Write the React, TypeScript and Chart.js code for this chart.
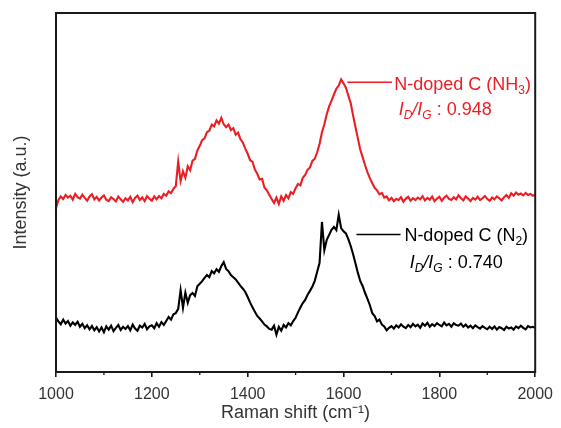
import React, { useEffect, useRef } from 'react';
import { Chart, registerables } from 'chart.js';

Chart.register(...registerables);

// Raman shift sampling grid (cm^-1), one reading every 5 cm^-1 from 1000 to 2000
const ramanShift: number[] = Array.from({ length: 201 }, (_, i) => 1000 + 5 * i);

// N-doped C (NH3) — red trace, intensity in arbitrary units
const nh3Intensity: number[] = [
  45.6, 47.9, 48.9, 48.2, 49.3, 48.6, 49.1, 48.0, 49.6, 48.7,
  48.3, 49.4, 48.5, 47.7, 48.9, 49.5, 48.1, 48.8, 47.8, 48.6,
  49.2, 48.0, 47.6, 48.7, 48.2, 47.5, 48.9, 48.1, 47.4, 48.4,
  47.8, 48.8, 47.3, 48.5, 49.1, 47.9, 48.6, 47.6, 49.0, 48.3,
  47.7, 48.9, 48.1, 49.0, 48.4, 49.6, 49.1, 50.3, 49.8, 51.0,
  51.8, 58.6, 53.2, 55.9, 54.1, 57.3, 56.2, 58.9, 59.4, 61.7,
  63.0, 64.6, 65.1, 66.8, 67.2, 68.9, 68.4, 70.1, 69.2, 70.8,
  69.0, 68.2, 68.9, 67.4, 67.9, 66.1, 66.7, 64.8, 63.9, 62.2,
  60.8, 59.0, 58.6, 56.4, 55.2, 53.6, 53.8, 51.4, 50.6, 49.4,
  48.2, 47.1, 48.6, 46.8, 48.9, 47.7, 49.3, 48.4, 50.1, 49.6,
  51.2, 52.4, 52.0, 54.1, 54.9, 56.3, 57.0, 58.8, 59.4, 61.2,
  63.5, 66.8, 69.0, 71.8, 74.0, 75.6, 77.3, 78.9, 79.8, 81.5,
  80.4, 79.2, 77.0, 74.9, 71.4, 68.2, 65.0, 61.9, 59.8, 57.6,
  55.6, 54.0, 52.6, 51.3, 50.6, 49.5, 49.9, 48.6, 48.9, 47.8,
  48.5, 47.6, 48.2, 47.9, 48.7, 47.4, 48.3, 48.8, 47.7, 48.4,
  47.9, 48.6, 48.1, 49.0, 47.8, 48.5, 48.0, 48.9, 47.6, 48.3,
  48.8, 47.7, 48.6, 49.1, 48.2, 47.9, 48.7, 48.1, 49.2, 48.4,
  47.8, 48.9, 48.3, 47.6, 48.5, 48.0, 48.8, 47.9, 48.4, 49.0,
  48.2, 47.7, 48.6, 48.1, 48.9, 48.4, 47.8, 48.7, 49.3, 48.5,
  49.8, 49.1, 50.0, 49.4, 49.7, 49.2, 49.9, 49.3, 49.6, 49.1,
  49.4,
];

// N-doped C (N2) — black trace, intensity in arbitrary units
const n2Intensity: number[] = [
  15.2, 14.1, 13.3, 14.6, 13.5, 14.2, 12.9, 13.8, 13.1, 14.0,
  12.6, 13.4, 12.2, 13.0, 11.9, 12.8, 11.6, 12.5, 11.3, 12.4,
  11.1, 12.7, 11.8, 12.9, 11.4, 12.3, 13.1, 11.7, 12.6, 12.0,
  12.8, 11.6, 13.2, 12.1, 11.5, 12.9, 12.4, 13.4, 11.9, 12.7,
  13.0, 12.2, 13.6, 12.6, 13.9, 13.1, 14.2, 15.3, 14.6, 16.1,
  16.4, 17.6, 22.8, 17.9, 22.1, 19.3, 21.4, 22.0, 21.2, 23.9,
  24.6, 25.3, 26.2, 27.0, 26.4, 28.1, 27.5, 28.6, 27.9, 29.5,
  30.6, 28.7, 28.1, 27.0, 26.4, 25.8, 24.9, 24.0, 23.2, 22.3,
  20.9, 19.4, 18.0, 16.8, 15.6, 14.9, 14.1, 13.2, 12.7, 12.0,
  11.8, 12.9, 10.4, 12.6, 11.5, 13.1, 12.4, 13.6, 13.0, 14.2,
  15.1, 16.6, 18.0, 19.2, 20.1, 21.5, 22.6, 23.8, 25.4, 27.9,
  30.4, 41.8, 33.9, 36.8, 38.2, 39.6, 40.4, 39.5, 43.8, 40.1,
  39.2, 38.6, 37.0, 35.1, 32.8, 30.2, 27.6, 25.3, 23.9, 22.0,
  20.4, 18.6, 16.4, 15.6, 14.1, 14.6, 13.2, 12.7, 11.6, 12.3,
  12.8, 12.1, 13.0, 12.4, 13.3, 12.6, 12.2, 13.1, 12.5, 13.4,
  12.7, 13.2, 12.3, 13.5, 12.9, 13.7, 12.6, 13.3, 12.8, 13.6,
  13.1, 12.7, 13.8, 13.0, 13.4, 12.6, 13.6, 13.1, 12.9, 13.5,
  12.6, 13.2, 12.4, 12.9, 12.2, 13.0, 12.5, 12.1, 12.8, 12.3,
  11.9, 12.6, 12.0, 12.7, 11.8, 12.5, 12.2, 11.7, 12.6, 12.1,
  12.4, 11.8, 12.7, 12.2, 12.9, 12.3, 11.9, 12.8, 12.4, 12.6,
  12.3,
];

const majorTicks: number[] = [1000, 1200, 1400, 1600, 1800, 2000];
const minorTicks: number[] = [1100, 1300, 1500, 1700, 1900];

const seriesNames: string[] = ['N-doped C (NH3)', 'N-doped C (N2)'];
const ratioValues: string[] = ['0.948', '0.740'];

const RED = 'rgb(236, 30, 36)';
const BLACK = '#000000';
const TEXT = '#333333';
const FAMILY = "'Liberation Sans', Arial, sans-serif";

// label anchors, in data units (shift, intensity)
const labelAnchors = [
  { color: RED, lineX0: 1608, lineX1: 1701, lineY: 80.7, textX: 1706, textY: 80.0, ratioX: 1715, ratioY: 73.1, head: 'N-doped C (NH', sub: '3' },
  { color: BLACK, lineX0: 1627, lineX1: 1719, lineY: 38.3, textX: 1727, textY: 38.0, ratioX: 1738, ratioY: 30.4, head: 'N-doped C (N', sub: '2' },
];

type Run = { text: string; font: string; dy?: number };

function drawRuns(ctx: CanvasRenderingContext2D, x: number, y: number, runs: Run[]) {
  let cx = x;
  for (const r of runs) {
    ctx.font = r.font;
    ctx.fillText(r.text, cx, y + (r.dy || 0));
    cx += ctx.measureText(r.text).width;
  }
}

const framePlugin = {
  id: 'frameAndLabels',
  afterDraw(chart: any) {
    const { ctx, chartArea, scales } = chart;
    const { left, right, top, bottom } = chartArea;
    ctx.save();
    ctx.strokeStyle = '#1a1a1a';
    ctx.lineWidth = 2;
    ctx.strokeRect(left, top, right - left, bottom - top);
    ctx.lineWidth = 1.3;
    for (const v of minorTicks) {
      const x = scales.x.getPixelForValue(v);
      ctx.beginPath();
      ctx.moveTo(x, bottom);
      ctx.lineTo(x, bottom + 3);
      ctx.stroke();
    }
    const base = `18px ${FAMILY}`;
    const small = `12px ${FAMILY}`;
    const ital = `italic 18px ${FAMILY}`;
    const italSmall = `italic 12px ${FAMILY}`;
    labelAnchors.forEach((a, i) => {
      const sx = scales.x;
      const sy = scales.y;
      ctx.strokeStyle = a.color;
      ctx.fillStyle = a.color;
      ctx.lineWidth = 1.6;
      ctx.beginPath();
      ctx.moveTo(sx.getPixelForValue(a.lineX0), sy.getPixelForValue(a.lineY));
      ctx.lineTo(sx.getPixelForValue(a.lineX1), sy.getPixelForValue(a.lineY));
      ctx.stroke();
      ctx.textBaseline = 'middle';
      ctx.textAlign = 'left';
      drawRuns(ctx, sx.getPixelForValue(a.textX), sy.getPixelForValue(a.textY), [
        { text: a.head, font: base },
        { text: a.sub, font: small, dy: 6 },
        { text: ')', font: base },
      ]);
      drawRuns(ctx, sx.getPixelForValue(a.ratioX), sy.getPixelForValue(a.ratioY), [
        { text: 'I', font: ital },
        { text: 'D', font: italSmall, dy: 6 },
        { text: '/', font: ital },
        { text: 'I', font: ital },
        { text: 'G', font: italSmall, dy: 6 },
        { text: ' : ' + ratioValues[i], font: base },
      ]);
    });
    ctx.restore();
  },
};

export default function App() {
  const canvasRef = useRef<HTMLCanvasElement | null>(null);

  useEffect(() => {
    if (!canvasRef.current) return;
    const chart = new Chart(canvasRef.current, {
      type: 'line',
      data: {
        datasets: [
          {
            label: seriesNames[0],
            data: ramanShift.map((x, i) => ({ x, y: nh3Intensity[i] })),
            borderColor: RED,
            borderWidth: 2.1,
            pointRadius: 0,
            tension: 0,
            fill: false,
          },
          {
            label: seriesNames[1],
            data: ramanShift.map((x, i) => ({ x, y: n2Intensity[i] })),
            borderColor: BLACK,
            borderWidth: 2.1,
            pointRadius: 0,
            tension: 0,
            fill: false,
          },
        ],
      },
      options: {
        animation: false,
        responsive: true,
        maintainAspectRatio: false,
        layout: { padding: { top: 13, right: 21, left: 0, bottom: 0 } },
        plugins: { legend: { display: false }, tooltip: { enabled: false } },
        scales: {
          x: {
            type: 'linear',
            min: 1000,
            max: 2000,
            afterBuildTicks: (s: any) => {
              s.ticks = majorTicks.map((v) => ({ value: v }));
            },
            afterFit: (s: any) => {
              s.height = 56;
            },
            ticks: {
              font: { size: 16, family: FAMILY },
              color: TEXT,
              padding: 8,
              maxRotation: 0,
              autoSkip: false,
              callback: (v: any) => String(v),
            },
            grid: {
              display: true,
              drawOnChartArea: false,
              drawTicks: true,
              tickLength: 5,
              color: '#1a1a1a',
              lineWidth: 1.6,
            },
            border: { display: false },
            title: {
              display: true,
              text: 'Raman shift (cm⁻¹)',
              font: { size: 18, family: FAMILY },
              color: TEXT,
              padding: { top: 0, bottom: 4 },
            },
          },
          y: {
            min: 0,
            max: 100,
            afterFit: (s: any) => {
              s.width = 56;
            },
            ticks: { display: false },
            grid: { display: false },
            border: { display: false },
            title: {
              display: true,
              text: 'Intensity (a.u.)',
              font: { size: 18, family: FAMILY },
              color: TEXT,
              padding: { top: 10, bottom: 0 },
            },
          },
        },
      },
      plugins: [framePlugin],
    } as any);
    return () => chart.destroy();
  }, []);

  return (
    <div style={{ position: 'absolute', left: 0, top: 0, width: 561, height: 428, background: '#fff' }}>
      <canvas ref={canvasRef} />
    </div>
  );
}
